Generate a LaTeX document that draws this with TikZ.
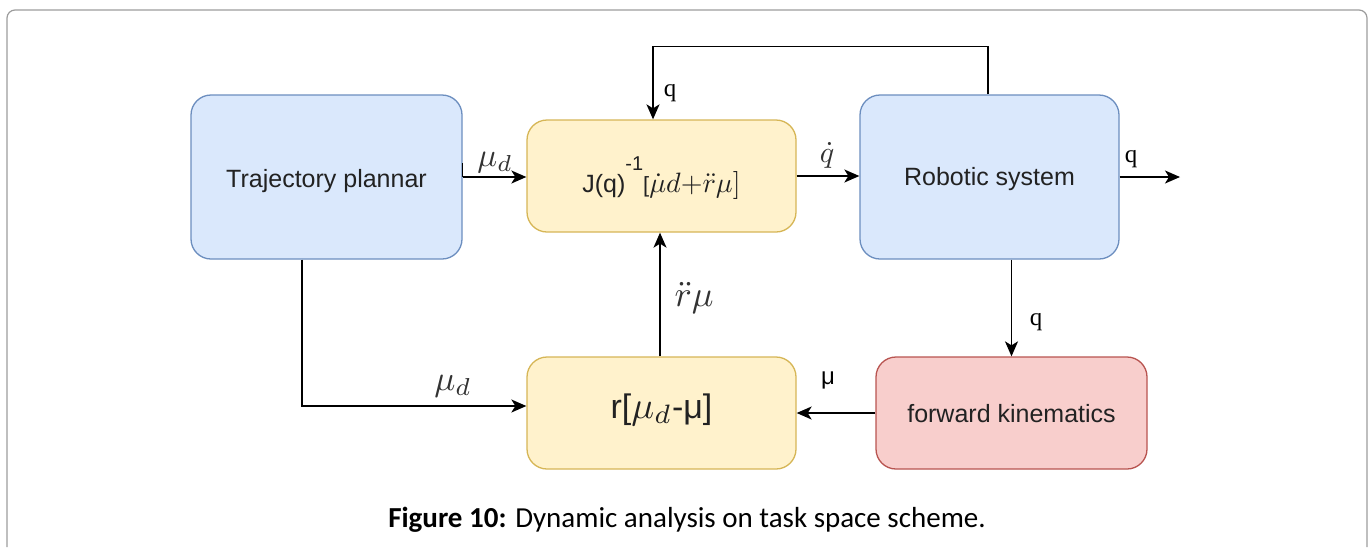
\documentclass[tikz,border=0pt]{standalone}
\usepackage{fontspec}
\setmainfont{Liberation Sans}
\newfontfamily\serifq{Liberation Serif}
\newfontfamily\capfont{Carlito}
\usetikzlibrary{arrows.meta}
\definecolor{bluef}{HTML}{DAE8FC}\definecolor{blued}{HTML}{6C8EBF}
\definecolor{yelf}{HTML}{FFF2CC}\definecolor{yeld}{HTML}{D6B656}
\definecolor{redf}{HTML}{F8CECC}\definecolor{redd}{HTML}{B85450}
\definecolor{framec}{HTML}{9C9C9C}
\definecolor{txt}{HTML}{222222}
\definecolor{labc}{HTML}{333333}
\newcommand{\scmath}[2]{{\fontsize{10}{12}\selectfont\scalebox{#1}{$#2$}}}
\begin{document}
\begin{tikzpicture}[x=1pt,y=-1pt,
  box/.style={rectangle, rounded corners=20pt, line width=1.3pt, inner sep=0pt,
    font=\fontsize{25}{30}\selectfont, text=txt, text height=18pt, text depth=0pt},
  bluebox/.style={box, fill=bluef, draw=blued},
  yelbox/.style={box, fill=yelf, draw=yeld, minimum width=269pt, minimum height=112pt},
  redbox/.style={box, fill=redf, draw=redd, minimum width=271pt, minimum height=112pt},
  conn/.style={line width=1.5pt, draw=black, -{Stealth[length=15pt,width=13pt,inset=4pt]}},
  plain/.style={line width=1.5pt, draw=black},
  mlab/.style={inner sep=0pt, text=labc},
  qlab/.style={inner sep=0pt, text=black, font=\serifq\fontsize{25}{28}\selectfont}]
\useasboundingbox (0,0) rectangle (1370,547);
\draw[framec, line width=1.2pt, rounded corners=8pt] (7,547) -- (7,10) -- (1367,10) -- (1367,547);

\node[bluebox, minimum width=271pt, minimum height=164pt, text height=20pt] (traj) at (326.5,177) {Trajectory plannar};
\node[yelbox, text height=32pt] (J) at (661.5,176) {J(q)\smash{\raisebox{22pt}{\fontsize{20}{22}\selectfont -1}}{\fontsize{22}{22}\selectfont[}\scmath{2.8}{\dot{\mu}d{+}\ddot{r}\mu]}};
\node[bluebox, minimum width=259pt, minimum height=164pt, text height=16pt] (robot) at (989.5,177) {Robotic system};
\node[yelbox, font=\fontsize{34}{38}\selectfont, text height=10pt] (r) at (661.5,413) {r[\smash{\scmath{3.8}{\mu_d}}-μ]};
\node[redbox] (fk) at (1011.5,413) {forward kinematics};
\coordinate (out) at (1180,177);

\draw[plain] ([yshift=14pt]traj.east) -- (traj.east);
\draw[conn] (traj.east) -- (J.west |- traj.east);
\draw[conn] (J.east) -- (robot.west |- J.east);
\draw[conn] (robot.east) -- (out);
\draw[conn] ([xshift=-1.5pt]robot.north) -- ++(0,-48) -| ([xshift=-8.5pt]J.north);
\draw[conn] (fk.north |- robot.south) -- (fk.north);
\draw[conn] ([xshift=-24.5pt]traj.south) |- ([yshift=7pt]r.west);
\draw[conn] (fk.west) -- (r.east);
\draw[conn] ([xshift=-1.5pt]r.north) -- ([xshift=-1.5pt]J.south);

\node[mlab] (l1) at (495,163) {\scmath{3.3}{\mu_d}};
\node[mlab] (l2) at (827,155) {\scmath{3.0}{\dot{q}}};
\node[qlab] (l3) at (1131,159) {q};
\node[qlab] (l4) at (670,93) {q};
\node[qlab] (l5) at (1036,322) {q};
\node[mlab] (l6) at (453,386) {\scmath{3.5}{\mu_d}};
\node[qlab, font=\fontsize{24}{26}\selectfont] (l7) at (828,380) {μ};
\node[mlab] (l8) at (694,298) {\scmath{3.6}{\ddot{r}\mu}};

\node[anchor=base, inner sep=0pt, text=black, font=\capfont\fontsize{29}{34}\selectfont] (cap) at (687,527) {\textbf{Figure 10:} Dynamic analysis on task space scheme.};
\end{tikzpicture}
\end{document}
